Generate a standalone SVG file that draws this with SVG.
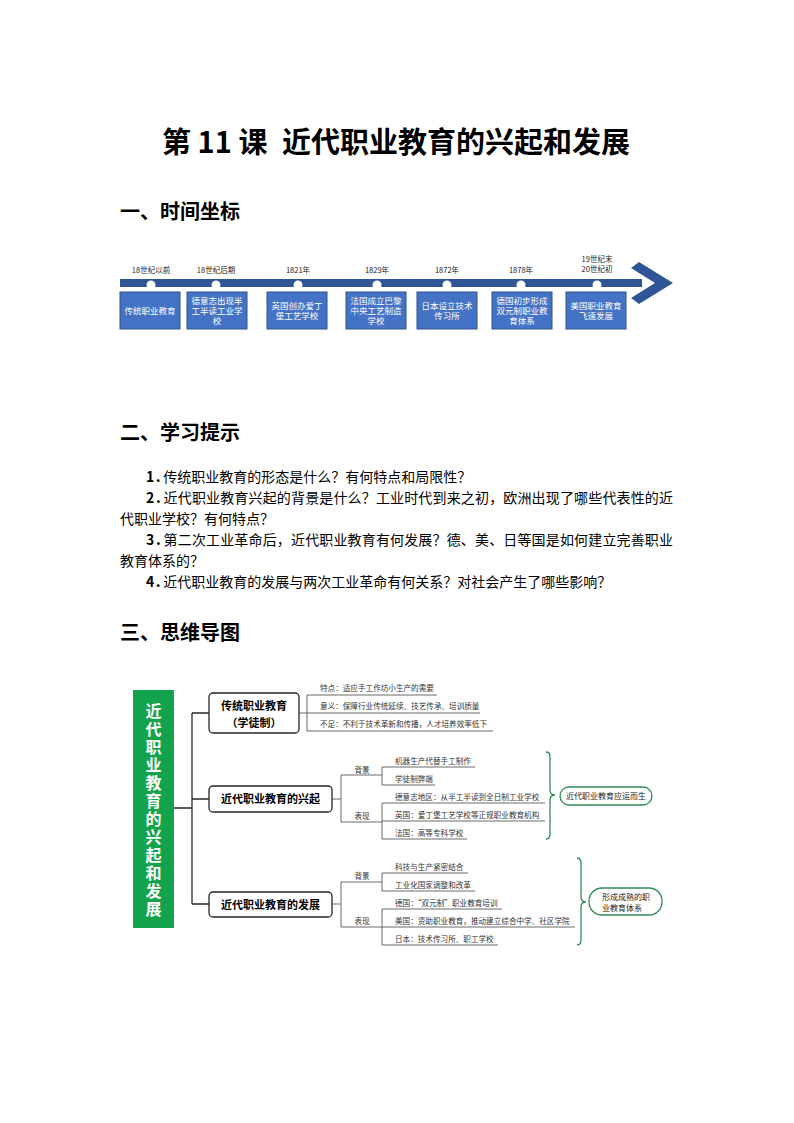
<svg xmlns="http://www.w3.org/2000/svg" width="794" height="1123" viewBox="0 0 794 1123">
<style>
text{font-family:"Noto Sans CJK SC","Noto Sans",sans-serif;fill:#000}
.title{font-size:29px;font-weight:bold}
.h{font-size:20px;font-weight:bold}
.p{font-size:14px}
.pn{font-weight:bold}
.pd{font-weight:bold;letter-spacing:-5px}
.tl{font-size:7.5px;fill:#222;text-anchor:middle}
.tb{fill:#4472C4;stroke:#2F528F;stroke-width:1}
.tbt{font-size:8.5px;fill:#fff;text-anchor:middle}
.mb{fill:#fff;stroke:#262626;stroke-width:1.3}
.mbt{font-size:11px;font-weight:bold;text-anchor:middle}
.gt{font-size:16px;font-weight:bold;fill:#fff;writing-mode:vertical-rl;letter-spacing:2px}
.lf{font-size:7.6px;fill:#333}
.lb{font-size:7.6px;fill:#333;text-anchor:middle}
.ln{fill:none;stroke:#595959;stroke-width:0.9}
.cn{fill:none;stroke:#262626;stroke-width:1.3}
.br{fill:none;stroke:#2E8B57;stroke-width:1.3}
.pill{fill:#fff;stroke:#2E8B57;stroke-width:1.3}
.pt{font-size:8px;fill:#222}
</style>

<g id="title">
<text class="title" x="162" y="153">第 11 课</text>
<text class="title" x="282" y="153">近代职业教育的兴起和发展</text>
</g>

<g id="h1"><text class="h" x="120" y="219">一、时间坐标</text></g>

<g id="timeline">
<rect x="120" y="279" width="522" height="8" fill="#2F5597"/>
<polygon points="631,268 639,262 673,283 639,304 631,298 655,283" fill="#2F5597"/>
<g fill="#fff">
<circle cx="151" cy="285" r="4.5"/>
<circle cx="216" cy="285" r="4.5"/>
<circle cx="298" cy="285" r="4.5"/>
<circle cx="377" cy="285" r="4.5"/>
<circle cx="447" cy="285" r="4.5"/>
<circle cx="521" cy="285" r="4.5"/>
<circle cx="597" cy="285" r="4.5"/>
</g>
<text class="tl" x="151" y="273">18世纪以前</text>
<text class="tl" x="216" y="273">18世纪后期</text>
<text class="tl" x="298" y="273">1821年</text>
<text class="tl" x="377" y="273">1829年</text>
<text class="tl" x="447" y="273">1872年</text>
<text class="tl" x="521" y="273">1878年</text>
<text class="tl" x="597" y="262">19世纪末</text>
<text class="tl" x="597" y="272">20世纪初</text>
</g>

<g id="t1"><rect class="tb" x="120" y="292" width="60" height="37"/><text class="tbt" x="150" y="314">传统职业教育</text></g>
<g id="t2"><rect class="tb" x="187" y="292" width="60" height="37"/><text class="tbt" x="217" y="303.5">德意志出现半</text><text class="tbt" x="217" y="313.5">工半读工业学</text><text class="tbt" x="217" y="323.5">校</text></g>
<g id="t3"><rect class="tb" x="267" y="292" width="60" height="37"/><text class="tbt" x="297" y="308.5">英国创办爱丁</text><text class="tbt" x="297" y="318.5">堡工艺学校</text></g>
<g id="t4"><rect class="tb" x="346" y="292" width="60" height="37"/><text class="tbt" x="376" y="303.5">法国成立巴黎</text><text class="tbt" x="376" y="313.5">中央工艺制造</text><text class="tbt" x="376" y="323.5">学校</text></g>
<g id="t5"><rect class="tb" x="417" y="292" width="60" height="37"/><text class="tbt" x="447" y="308.5">日本设立技术</text><text class="tbt" x="447" y="318.5">传习所</text></g>
<g id="t6"><rect class="tb" x="492" y="292" width="60" height="37"/><text class="tbt" x="522" y="303.5">德国初步形成</text><text class="tbt" x="522" y="313.5">双元制职业教</text><text class="tbt" x="522" y="323.5">育体系</text></g>
<g id="t7"><rect class="tb" x="566" y="292" width="60" height="37"/><text class="tbt" x="596" y="308.5">美国职业教育</text><text class="tbt" x="596" y="318.5">飞速发展</text></g>

<g id="h2"><text class="h" x="120" y="440">二、学习提示</text></g>

<g id="prompts">
<text class="p" x="146" y="482"><tspan class="pn">1</tspan><tspan class="pd">．</tspan>传统职业教育的形态是什么？有何特点和局限性？</text>
<text class="p" x="146" y="503" textLength="527" lengthAdjust="spacing"><tspan class="pn">2</tspan><tspan class="pd">．</tspan>近代职业教育兴起的背景是什么？工业时代到来之初，欧洲出现了哪些代表性的近</text>
<text class="p" x="120" y="524">代职业学校？有何特点？</text>
<text class="p" x="146" y="545" textLength="527" lengthAdjust="spacing"><tspan class="pn">3</tspan><tspan class="pd">．</tspan>第二次工业革命后，近代职业教育有何发展？德、美、日等国是如何建立完善职业</text>
<text class="p" x="120" y="566">教育体系的？</text>
<text class="p" x="146" y="587"><tspan class="pn">4</tspan><tspan class="pd">．</tspan>近代职业教育的发展与两次工业革命有何关系？对社会产生了哪些影响？</text>
</g>

<g id="h3"><text class="h" x="120" y="640">三、思维导图</text></g>

<g id="connectors">
<path class="cn" d="M174,808 H192 M192,713 V904 M192,713 H209 M192,799 H209 M192,904 H209"/>
<path class="ln" d="M299,713 H307 M307,695 V731 M307,695 H437 M307,713 H480 M307,731 H493"/>
<path class="ln" d="M332,799 H341 M341,775 V822 M341,775 H382 M341,822 H382 M382,767 V785 M382,767 H475 M382,785 H435 M382,803 V839 M382,803 H545 M382,821 H545 M382,839 H467"/>
<path class="ln" d="M332,904 H341 M341,882 V927 M341,882 H382 M341,927 H382 M382,873 V891 M382,873 H468 M382,891 H475 M382,909 V945 M382,909 H502 M382,927 H575 M382,945 H498"/>
<path class="br" d="M546,752 Q550,752 550,757 L550,790 Q550,795 555,795 Q550,795 550,800 L550,834 Q550,839 546,839"/>
<path class="br" d="M577,858 Q581,858 581,863 L581,897 Q581,902 586,902 Q581,902 581,907 L581,940 Q581,945 577,945"/>
</g>

<g id="root">
<rect x="133" y="690" width="41" height="238" fill="#13A34C"/>
<text class="gt" x="153.5" y="703">近代职业教育的兴起和发展</text>
</g>

<g id="nodeA">
<rect class="mb" x="209" y="693" width="90" height="40" rx="4"/>
<text class="mbt" x="254" y="710">传统职业教育</text>
<text class="mbt" x="254" y="727">（学徒制）</text>
</g>
<g id="nodeA-leaves">
<text class="lf" x="320" y="691">特点：适应手工作坊小生产的需要</text>
<text class="lf" x="320" y="709">意义：保障行业传统延续、技艺传承、培训质量</text>
<text class="lf" x="320" y="727">不足：不利于技术革新和传播，人才培养效率低下</text>
</g>

<g id="nodeB">
<rect class="mb" x="209" y="786" width="123" height="26" rx="4"/>
<text class="mbt" x="270.5" y="803">近代职业教育的兴起</text>
</g>
<g id="nodeB-leaves">
<text class="lb" x="362" y="773">背景</text>
<text class="lb" x="362" y="819">表现</text>
<text class="lf" x="395" y="764">机器生产代替手工制作</text>
<text class="lf" x="395" y="782">学徒制弊端</text>
<text class="lf" x="395" y="800">德意志地区：从半工半读到全日制工业学校</text>
<text class="lf" x="395" y="818">英国：爱丁堡工艺学校等正规职业教育机构</text>
<text class="lf" x="395" y="836">法国：高等专科学校</text>
</g>
<g id="resultB">
<rect class="pill" x="560" y="787" width="92" height="18" rx="9"/>
<text class="pt" x="606" y="799" text-anchor="middle">近代职业教育应运而生</text>
</g>

<g id="nodeC">
<rect class="mb" x="209" y="892" width="123" height="25" rx="4"/>
<text class="mbt" x="270.5" y="909">近代职业教育的发展</text>
</g>
<g id="nodeC-leaves">
<text class="lb" x="362" y="879">背景</text>
<text class="lb" x="362" y="924">表现</text>
<text class="lf" x="395" y="870">科技与生产紧密结合</text>
<text class="lf" x="395" y="888">工业化国家调整和改革</text>
<text class="lf" x="395" y="906">德国：“双元制”职业教育培训</text>
<text class="lf" x="395" y="924">美国：资助职业教育，推动建立综合中学、社区学院</text>
<text class="lf" x="395" y="942">日本：技术传习所、职工学校</text>
</g>
<g id="resultC">
<rect class="pill" x="589" y="888" width="73" height="27" rx="13"/>
<text class="pt" x="602" y="900">形成成熟的职</text>
<text class="pt" x="602" y="911">业教育体系</text>
</g>
</svg>
